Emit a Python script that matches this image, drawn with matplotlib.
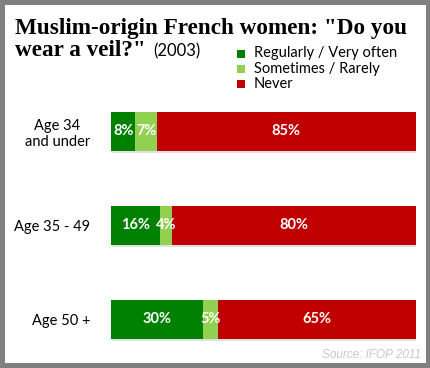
import matplotlib.pyplot as plt
import matplotlib.patches as mpatches
import matplotlib.patheffects as pe

# data
groups = ["Age 34\nand under", "Age 35 - 49", "Age 50 +"]
regularly = [8, 16, 30]
sometimes = [7, 4, 5]
never = [85, 80, 65]
series_names = ["Regularly / Very often", "Sometimes / Rarely", "Never"]
colors = ["#008000", "#92D050", "#C00000"]

W, H = 431, 368
fig = plt.figure(figsize=(W / 100, H / 100), dpi=100, facecolor="#808080")

# white panel inside the grey frame
fig.patches.append(mpatches.Rectangle((5 / W, 5 / H), 421 / W, 358 / H,
                                      transform=fig.transFigure,
                                      facecolor="white", edgecolor="none", zorder=-1))

# bar axes: pixels x 111..416, y 100..345 (from top)
ax = fig.add_axes([111 / W, 1 - 345 / H, 305 / W, 245 / H])
ax.set_facecolor("none")

ypos = list(range(len(groups)))
left = [0] * len(groups)
for vals, col in zip([regularly, sometimes, never], colors):
    bars = ax.barh(ypos, vals, left=left, height=39 / 94, color=col,
                   edgecolor="none")
    for b in bars:
        b.set_path_effects([pe.SimplePatchShadow(offset=(0.5, -1.5), shadow_rgbFace="#aaaaaa",
                                                 alpha=0.35), pe.Normal()])
    for b, v, l in zip(bars, vals, left):
        ax.text(l + v / 2, b.get_y() + b.get_height() / 2, f"{v}%",
                ha="center", va="center", color="white", fontsize=10.5,
                fontweight="bold", family="Lato")
    left = [l + v for l, v in zip(left, vals)]

ax.set_xlim(0, 100)
ax.set_ylim(-0.335 + 245 / 94, -0.335)
ax.set_yticks(ypos)
ax.set_yticklabels(groups, fontsize=10.5, family="Lato", multialignment="center")
ax.tick_params(axis="y", length=0, pad=15)
ax.set_xticks([])
for s in ax.spines.values():
    s.set_visible(False)

# title
fig.text(15 / W, 1 - 34 / H, 'Muslim-origin French women: "Do you',
         fontsize=16.7, fontweight="bold", family="Liberation Serif", va="baseline")
fig.text(15 / W, 1 - 56 / H, 'wear a veil?"',
         fontsize=16.7, fontweight="bold", family="Liberation Serif", va="baseline")
fig.text(153 / W, 1 - 56 / H, "(2003)", fontsize=12, family="Lato",
         va="baseline")

# legend
for i, (name, col) in enumerate(zip(series_names, colors)):
    yc = [53.5, 69, 84][i]
    fig.patches.append(mpatches.Rectangle((237 / W, 1 - (yc + 4) / H), 8 / W, 8 / H,
                                          transform=fig.transFigure,
                                          facecolor=col, edgecolor="none"))
    fig.text(254 / W, 1 - yc / H, name, fontsize=10.5, family="Lato", va="center")

fig.text(421 / W, 1 - 355 / H, "Source: IFOP 2011", fontsize=8.5, color="#c8c8c8",
         style="italic", family="Liberation Sans", ha="right", va="center")

fig.savefig("out.png", dpi=100, facecolor=fig.get_facecolor())
